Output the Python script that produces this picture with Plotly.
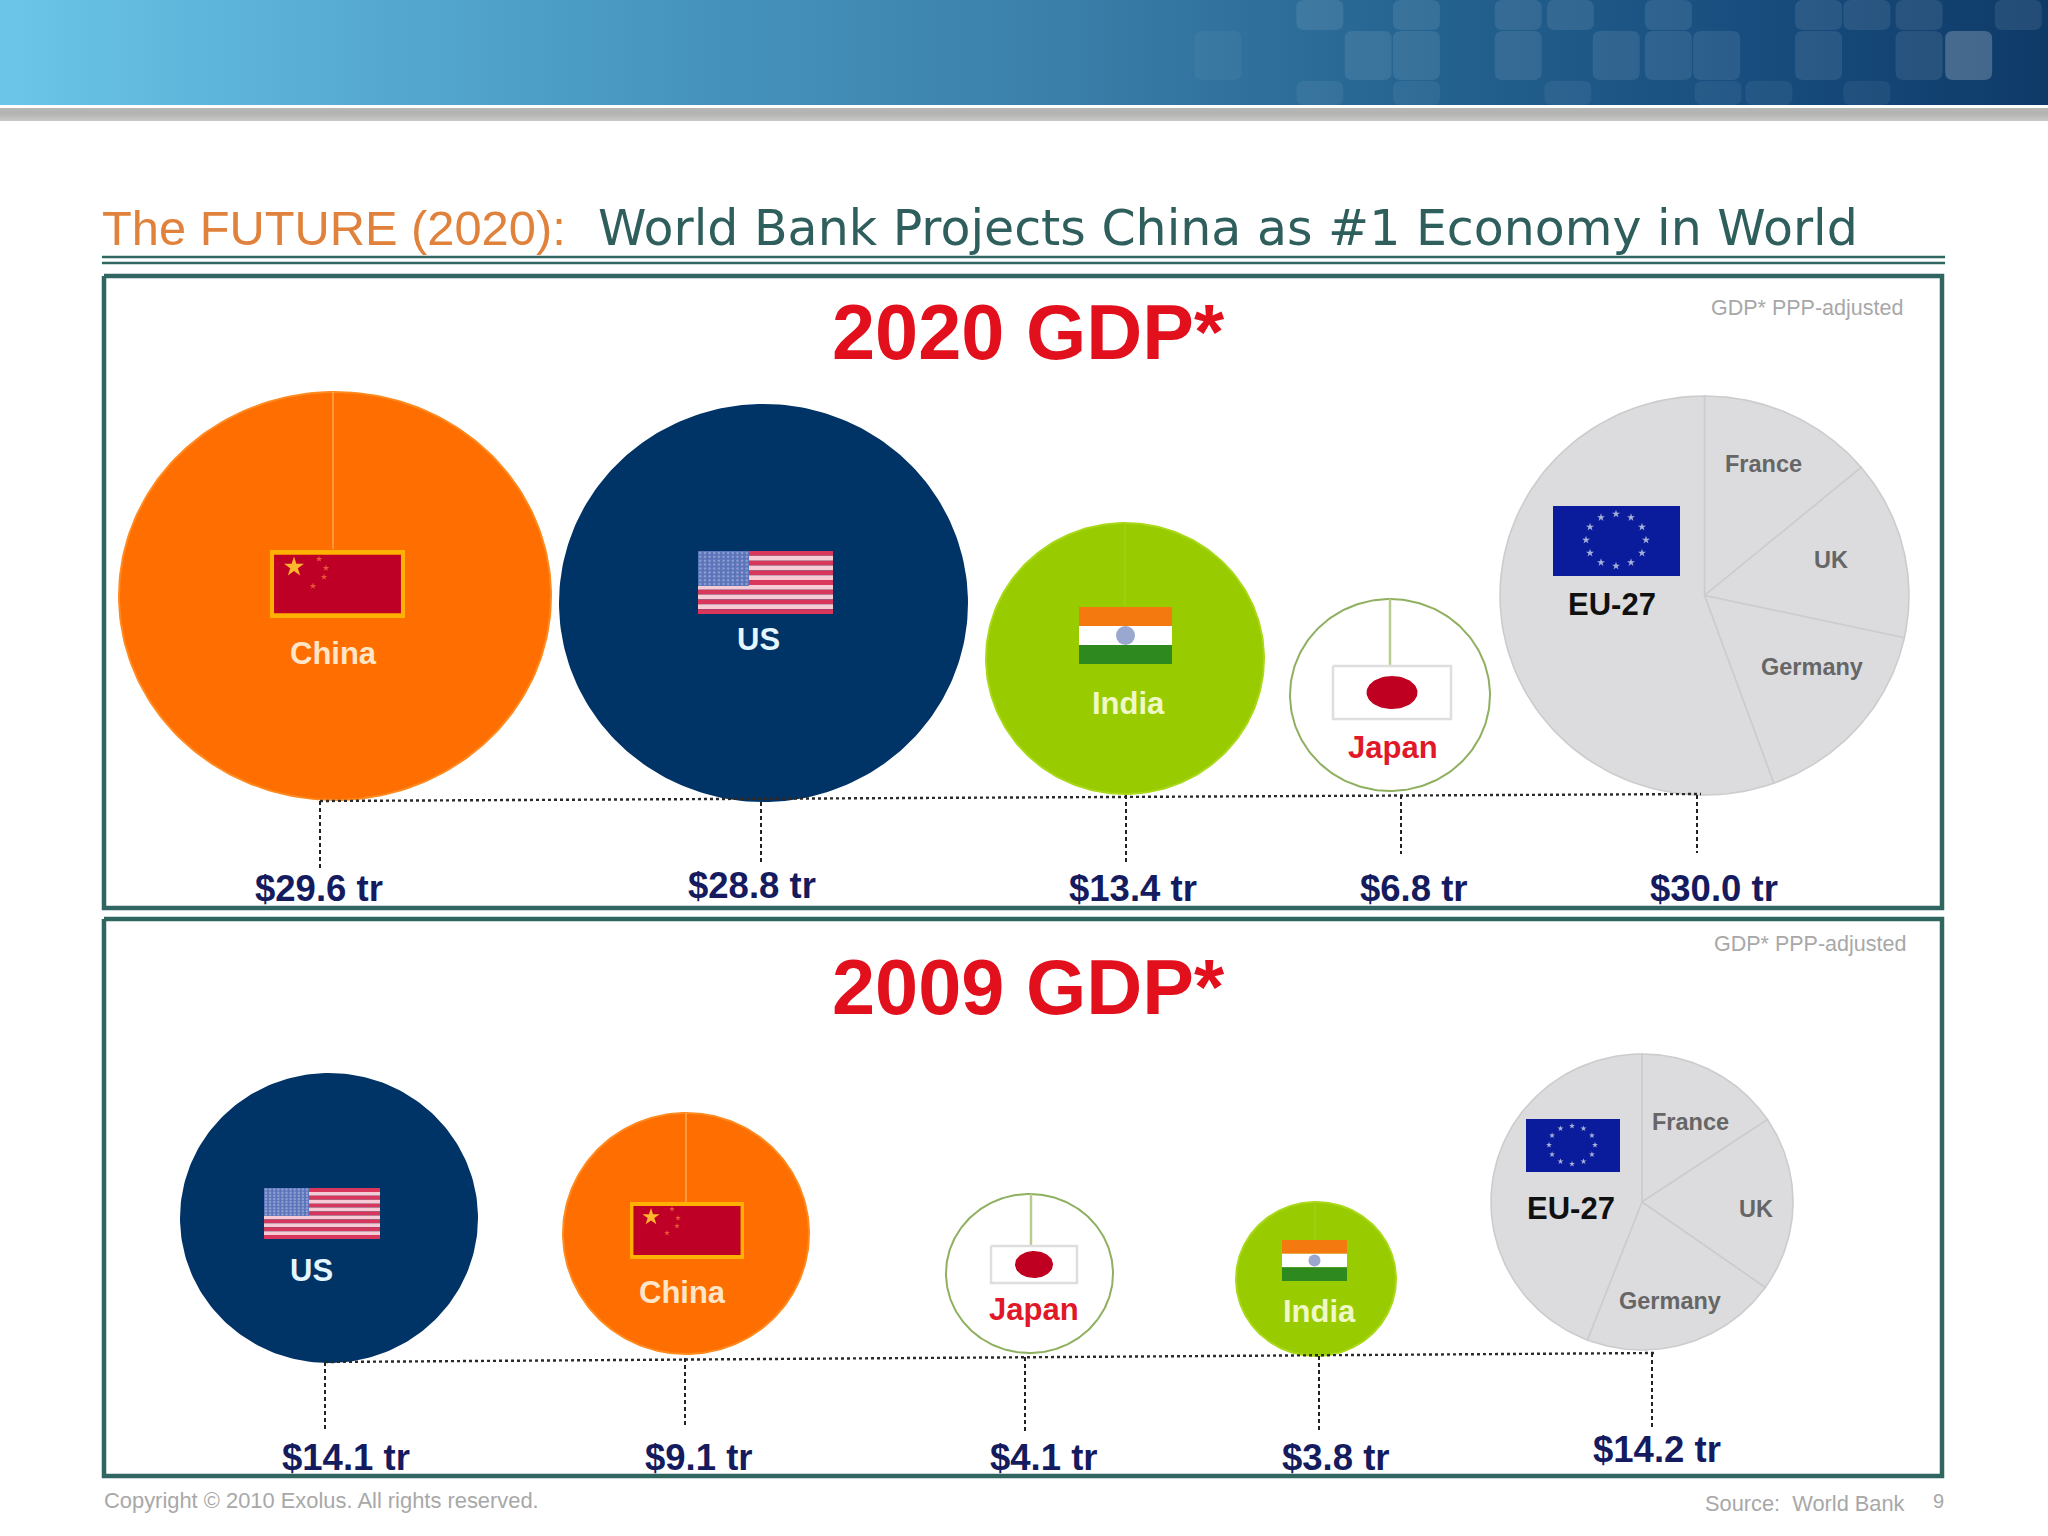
import math
import plotly.graph_objects as go

# ---------- data ----------
categories_2020 = ["China", "US", "India", "Japan", "EU-27"]
gdp_2020 = [29.6, 28.8, 13.4, 6.8, 30.0]
categories_2009 = ["US", "China", "Japan", "India", "EU-27"]
gdp_2009 = [14.1, 9.1, 4.1, 3.8, 14.2]
eu_members = ["France", "UK", "Germany", "Other EU"]
eu_share_2020 = [13.9, 14.5, 16.1, 55.5]
eu_share_2009 = [15.6, 19.2, 21.1, 44.1]

# ---------- layout geometry (reference pixels) ----------
W, H = 2048, 1536
FONT = "Liberation Sans"
NAVY, ORANGE, GREEN, GREY = "#003366", "#FF6E00", "#99CC00", "#DCDCDE"
FILLS = {"China": ORANGE, "US": NAVY, "India": GREEN, "Japan": "#FFFFFF", "EU-27": GREY}
EDGES = {"China": "#FF8A20", "US": NAVY, "India": "#A8D818", "Japan": "#8FB060", "EU-27": "#D0D0D2"}
# x0, x1, y0, y1 of each bubble
BOX_2020 = {"China": (119, 551, 392, 800), "US": (560, 967, 405, 801), "India": (986, 1264, 523, 794),
            "Japan": (1290, 1490, 599, 791), "EU-27": (1500, 1909, 396, 795)}
BOX_2009 = {"US": (181, 477, 1074, 1362), "China": (563, 809, 1113, 1354), "Japan": (946, 1113, 1194, 1353),
            "India": (1236, 1396, 1202, 1356), "EU-27": (1491, 1793, 1054, 1350)}
# x, y of value label; x, y0, y1 of its leader
VAL_2020 = {"China": (319, 888, 320, 801, 870), "US": (752, 885, 761, 802, 864), "India": (1133, 888, 1126, 795, 864),
            "Japan": (1414, 888, 1401, 795, 854), "EU-27": (1714, 888, 1697, 795, 853)}
VAL_2009 = {"US": (346, 1457, 325, 1362, 1432), "China": (699, 1457, 685, 1358, 1428), "Japan": (1044, 1457, 1025, 1357, 1432),
            "India": (1336, 1457, 1319, 1356, 1432), "EU-27": (1657, 1449, 1652, 1353, 1428)}
NAME_2020 = {"China": (333, 653, "#FFE6C8"), "US": (758, 639, "#E4F6FF"), "India": (1128, 703, "#F0F8C8"),
             "Japan": (1393, 747, "#E01828"), "EU-27": (1612, 604, "#101010")}
NAME_2009 = {"US": (311, 1270, "#E4F6FF"), "China": (682, 1292, "#FFE6C8"), "Japan": (1034, 1309, "#E01828"),
             "India": (1319, 1311, "#F0F8C8"), "EU-27": (1571, 1208, "#101010")}
MEMBER_2020 = {"France": (1763, 464), "UK": (1831, 560), "Germany": (1812, 667)}
MEMBER_2009 = {"France": (1690, 1122), "UK": (1756, 1209), "Germany": (1670, 1301)}

fig = go.Figure()
ann = []


def text(x, y, s, size, color, bold=False, family=FONT, anchor="center"):
    ann.append(dict(x=x, y=y, xref="x", yref="y", text=f"<b>{s}</b>" if bold else s, showarrow=False,
                    font=dict(family=family, size=size, color=color), xanchor=anchor, yanchor="middle"))


def poly(xs, ys, fill, line=None, lw=0, name="", **kw):
    fig.add_trace(go.Scatter(x=xs, y=ys, mode="lines", fill="toself", fillcolor=fill, name=name,
                             line=dict(color=line or fill, width=lw), showlegend=False,
                             hoverinfo="name" if name else "skip", **kw))


def rect(x0, x1, y0, y1, fill, **kw):
    poly([x0, x1, x1, x0, x0], [y0, y0, y1, y1, y0], fill, **kw)


def line(xs, ys, color, width=1.5, dash="solid"):
    fig.add_trace(go.Scatter(x=xs, y=ys, mode="lines", line=dict(color=color, width=width, dash=dash),
                             showlegend=False, hoverinfo="skip"))


def dots(xs, ys, color, size, symbol="circle"):
    fig.add_trace(go.Scatter(x=xs, y=ys, mode="markers", showlegend=False, hoverinfo="skip",
                             marker=dict(color=color, size=size, symbol=symbol, line=dict(width=0))))


def ellipse_pts(box, a0=0.0, a1=360.0, n=240):
    cx, cy = (box[0] + box[1]) / 2, (box[2] + box[3]) / 2
    rx, ry = (box[1] - box[0]) / 2, (box[3] - box[2]) / 2
    xs, ys = [], []
    for i in range(n + 1):
        t = math.radians(a0 + (a1 - a0) * i / n)
        xs.append(cx + rx * math.sin(t))
        ys.append(cy - ry * math.cos(t))
    return xs, ys, cx, cy


def bubble(cat, box, value):
    xs, ys, _, _ = ellipse_pts(box)
    poly(xs, ys, FILLS[cat], EDGES[cat], 2, name=f"{cat}: ${value:.1f} tr")


def eu_pie(box, shares):
    _, _, cx, cy = ellipse_pts(box)
    start = 0.0
    total = sum(shares)
    for member, share in zip(eu_members, shares):
        end = start + 360 * share / total
        xs, ys, _, _ = ellipse_pts(box, start, end, 90)
        poly([cx] + xs + [cx], [cy] + ys + [cy], GREY, "#CCCCCE", 1.6, name=f"{member}: {share}%")
        start = end


def flag_china(x0, x1, y0, y1, big, small):
    rect(x0, x1, y0, y1, "#FFB000")
    b = (x1 - x0) * 0.03
    rect(x0 + b, x1 - b, y0 + b * 1.2, y1 - b * 1.2, "#BE0026")
    dots([big[0]], [big[1]], "#FFB52E", big[2], "star")
    dots([p[0] for p in small], [p[1] for p in small], "#E8563A", big[2] * 0.33, "star")


def flag_us(x0, x1, y0, y1, cx, cy):
    h = (y1 - y0) / 13
    for i in range(13):
        rect(x0, x1, y0 + i * h, y0 + (i + 1) * h, "#D8365A" if i % 2 == 0 else "#F6CBD6")
    rect(x0, cx, y0, cy, "#5B74BA")
    gx, gy = [], []
    for r in range(9):
        for c in range(11):
            gx.append(x0 + (c + 0.5) * (cx - x0) / 11)
            gy.append(y0 + (r + 0.5) * (cy - y0) / 9)
    dots(gx, gy, "#8C9DD0", 2.5)


def flag_india(x0, x1, y0, y1, size):
    h = (y1 - y0) / 3
    rect(x0, x1, y0, y0 + h, "#F47A10")
    rect(x0, x1, y0 + h, y0 + 2 * h, "#FFFFFF")
    rect(x0, x1, y0 + 2 * h, y1, "#2E8A1E")
    dots([(x0 + x1) / 2], [(y0 + y1) / 2], "#9AA8D0", size)


def flag_japan(x0, x1, y0, y1, rx, ry):
    poly([x0, x1, x1, x0, x0], [y0, y0, y1, y1, y0], "#FFFFFF", "#DEDEDE", 2.5)
    cx, cy = (x0 + x1) / 2, (y0 + y1) / 2
    xs, ys, _, _ = ellipse_pts((cx - rx, cx + rx, cy - ry, cy + ry), n=80)
    poly(xs, ys, "#C00020")


def flag_eu(x0, x1, y0, y1, cx, cy, rx, ry, star):
    rect(x0, x1, y0, y1, "#0A1C9C")
    ang = [math.radians(30 * i) for i in range(12)]
    dots([cx + rx * math.cos(a) for a in ang], [cy + ry * math.sin(a) for a in ang], "#A8B2D8", star, "star")


# ---------- banner ----------
def grad(x0, x1, y0, y1, kind, scale):
    fig.add_trace(go.Scatter(x=[x0, x1, x1, x0, x0], y=[y0, y0, y1, y1, y0], mode="lines", fill="toself",
                             line=dict(width=0), showlegend=False, hoverinfo="skip",
                             fillgradient=dict(type=kind, colorscale=scale)))


grad(0, W, 0, 105, "horizontal", [[0, "#6BC6E9"], [0.1, "#5EB5DB"], [0.33, "#4695BF"], [0.52, "#3A7FA9"],
                                  [0.7, "#24628F"], [0.85, "#184E7F"], [1, "#0E3A68"]])
grad(0, W, 108, 121, "vertical", [[0, "#C8C8C6"], [0.6, "#B2B2B0"], [1, "#B8B8B6"]])

TILE_COLS = {(0, 30, 0.09): [993, 1067, 1145, 1185, 1260, 1375, 1412, 1452, 1528],
             (31, 80, 0.09): [915, 1030, 1067, 1145, 1220, 1260, 1297, 1375, 1452, 1490],
             (81, 105, 0.06): [993, 1067, 1183, 1298, 1337, 1412]}
tile_shapes = []
for (ty0, ty1, alpha), cols in TILE_COLS.items():
    for c in cols:
        x0, x1 = c / 0.766, (c + 36) / 0.766
        r = 8
        bright = 0.22 if c == 1490 else (0.04 if c == 915 else alpha)
        path = (f"M{x0 + r},{ty0} L{x1 - r},{ty0} Q{x1},{ty0} {x1},{ty0 + r} L{x1},{ty1 - r} Q{x1},{ty1} {x1 - r},{ty1} "
                f"L{x0 + r},{ty1} Q{x0},{ty1} {x0},{ty1 - r} L{x0},{ty0 + r} Q{x0},{ty0} {x0 + r},{ty0} Z")
        tile_shapes.append(dict(type="path", path=path, xref="x", yref="y", line=dict(width=0),
                                fillcolor=f"rgba(255,255,255,{bright})"))

# ---------- title and frames ----------
text(100, 228, "The FUTURE (2020):", 48.8, "#E0813C", anchor="left")
text(596, 228, "World Bank Projects China as #1 Economy in World", 49, "#2F5F5C", family="DejaVu Sans", anchor="left")
line([102, 1945], [257, 257], "#2F6660", 2.5)
line([102, 1945], [263, 263], "#2F6660", 2.5)
for top, bottom in [(276, 908), (919, 1476)]:
    line([104, 1942, 1942, 104, 104], [top, top, bottom, bottom, top], "#2F6660", 4.5)

# ---------- 2020 panel ----------
for cat, val in zip(categories_2020, gdp_2020):
    if cat == "EU-27":
        eu_pie(BOX_2020[cat], eu_share_2020)
    else:
        bubble(cat, BOX_2020[cat], val)
line([333, 333], [392, 549], "#FFA850", 1.5)
line([1125, 1125], [523, 606], "#A4CE18", 1.5)
line([1390, 1390], [599, 666], "#B8CC90", 2.5)
flag_china(270, 405, 550, 618, (294, 567, 15), [(319, 559), (326, 568), (324, 577), (313, 586)])
flag_us(698, 833, 551, 614, 749, 586)
flag_india(1079, 1172, 607, 664, 19)
flag_japan(1333, 1451, 666, 719, 25.5, 16.5)
flag_eu(1553, 1680, 506, 576, 1616, 540, 30, 26, 6)

line([320, 1701], [801, 794], "#2A2A2A", 2.4, "dot")
for cat, val in zip(categories_2020, gdp_2020):
    vx, vy, lx, ly0, ly1 = VAL_2020[cat]
    line([lx, lx], [ly0, ly1], "#222222", 2, "4px,3px")
    text(vx, vy, f"${val:.1f} tr", 36.5, "#141B5E", bold=True)
    nx, ny, nc = NAME_2020[cat]
    text(nx, ny, cat, 31, nc, bold=True)
for m, (mx, my) in MEMBER_2020.items():
    text(mx, my, m, 23.5, "#666666", bold=True)
text(1028, 332, "2020 GDP*", 77.5, "#E2101C", bold=True)
text(1807, 308, "GDP* PPP-adjusted", 21.5, "#A8A8A8")

# ---------- 2009 panel ----------
for cat, val in zip(categories_2009, gdp_2009):
    if cat == "EU-27":
        eu_pie(BOX_2009[cat], eu_share_2009)
    else:
        bubble(cat, BOX_2009[cat], val)
line([686, 686], [1113, 1202], "#FFA850", 1.5)
line([1315, 1315], [1202, 1240], "#A4CE18", 1.5)
line([1031, 1031], [1194, 1246], "#B8CC90", 2.5)
flag_china(630, 744, 1202, 1259, (651, 1217, 13), [(672, 1209), (678, 1218), (677, 1226), (667, 1233)])
flag_us(264, 380, 1188, 1239, 309, 1216)
flag_india(1282, 1347, 1240, 1281, 12)
flag_japan(991, 1077, 1246, 1283, 19, 13.5)
flag_eu(1526, 1620, 1119, 1172, 1572, 1145, 23, 19, 4.5)

line([325, 1654], [1362, 1353], "#2A2A2A", 2.4, "dot")
for cat, val in zip(categories_2009, gdp_2009):
    vx, vy, lx, ly0, ly1 = VAL_2009[cat]
    line([lx, lx], [ly0, ly1], "#222222", 2, "4px,3px")
    text(vx, vy, f"${val:.1f} tr", 36.5, "#141B5E", bold=True)
    nx, ny, nc = NAME_2009[cat]
    text(nx, ny, cat, 31, nc, bold=True)
for m, (mx, my) in MEMBER_2009.items():
    text(mx, my, m, 23.5, "#666666", bold=True)
text(1028, 987, "2009 GDP*", 77.5, "#E2101C", bold=True)
text(1810, 944, "GDP* PPP-adjusted", 21.5, "#A8A8A8")

# ---------- footer ----------
text(102, 1500, "Copyright © 2010 Exolus. All rights reserved.", 21.9, "#A8A8A8", anchor="left")
text(1703, 1503, "Source:  World Bank", 21.8, "#A8A8A8", anchor="left")
text(1938, 1501, "9", 20, "#A8A8A8")

fig.update_layout(width=W, height=H, margin=dict(l=0, r=0, t=0, b=0), plot_bgcolor="white", paper_bgcolor="white",
                  showlegend=False, annotations=ann, shapes=tile_shapes,
                  xaxis=dict(range=[0, W], visible=False, fixedrange=True),
                  yaxis=dict(range=[H, 0], visible=False, fixedrange=True))
fig.write_html("out.html", config={"displayModeBar": False}, post_script="document.body.style.margin='0';")
